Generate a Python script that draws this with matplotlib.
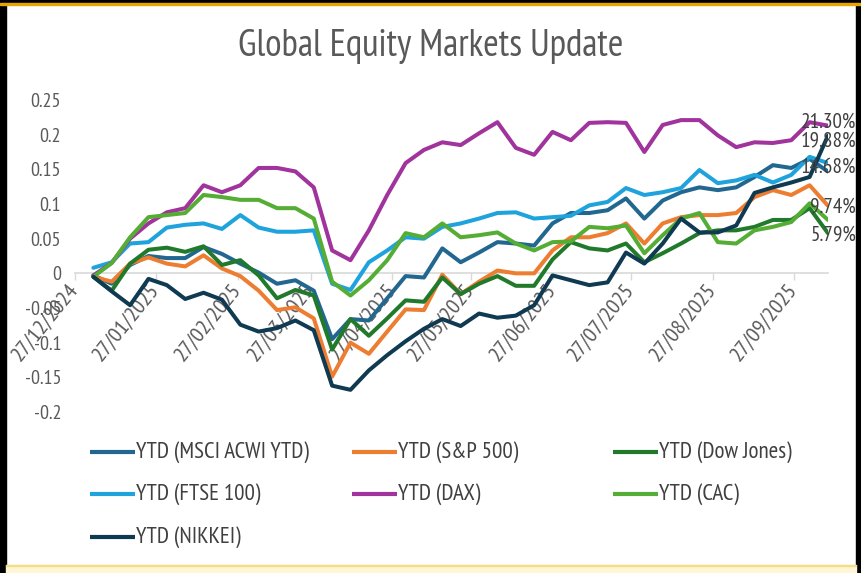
import numpy as np
import pandas as pd
import matplotlib
matplotlib.use("Agg")
import matplotlib.pyplot as plt
from matplotlib.lines import Line2D
from matplotlib.patches import Rectangle
from matplotlib import font_manager as fm
from matplotlib.textpath import TextPath
from matplotlib.font_manager import FontProperties

# ---------------- data ----------------
dates = pd.date_range("2025-01-03", periods=41, freq="7D")

series_names = ["YTD (MSCI ACWI YTD)", "YTD (S&P 500)", "YTD (Dow Jones)",
                "YTD (FTSE 100)", "YTD (DAX)", "YTD (CAC)", "YTD (NIKKEI)"]

msci = [-0.003, -0.015, 0.012, 0.025, 0.022, 0.022, 0.038, 0.028, 0.014, 0.001,
        -0.015, -0.010, -0.025, -0.095, -0.066, -0.068, -0.036, -0.004, -0.006, 0.036,
        0.016, 0.030, 0.045, 0.043, 0.040, 0.072, 0.087, 0.087, 0.091, 0.108,
        0.079, 0.105, 0.117, 0.124, 0.120, 0.124, 0.139, 0.156, 0.152, 0.165, 0.1468]
sp500 = [-0.005, -0.012, 0.014, 0.023, 0.014, 0.010, 0.026, 0.007, -0.004, -0.025,
         -0.053, -0.049, -0.065, -0.149, -0.100, -0.116, -0.084, -0.052, -0.053, -0.002,
         -0.030, -0.012, 0.004, 0.000, 0.000, 0.033, 0.052, 0.052, 0.058, 0.072,
         0.043, 0.072, 0.081, 0.084, 0.084, 0.087, 0.110, 0.120, 0.113, 0.127, 0.0974]
dow = [-0.005, -0.025, 0.014, 0.034, 0.037, 0.031, 0.039, 0.012, 0.019, -0.003,
       -0.036, -0.024, -0.032, -0.110, -0.066, -0.090, -0.065, -0.039, -0.041, -0.006,
       -0.030, -0.015, -0.004, -0.018, -0.018, 0.020, 0.045, 0.036, 0.033, 0.043,
       0.016, 0.029, 0.043, 0.058, 0.062, 0.062, 0.067, 0.077, 0.077, 0.094, 0.0579]
ftse = [0.008, 0.016, 0.043, 0.045, 0.066, 0.070, 0.072, 0.064, 0.084, 0.066,
        0.060, 0.060, 0.062, -0.015, -0.024, 0.016, 0.033, 0.052, 0.050, 0.067,
        0.072, 0.079, 0.087, 0.088, 0.079, 0.081, 0.083, 0.098, 0.103, 0.123,
        0.113, 0.117, 0.123, 0.149, 0.130, 0.134, 0.142, 0.131, 0.142, 0.168, 0.159]
dax = [-0.003, 0.015, 0.050, 0.072, 0.088, 0.094, 0.127, 0.117, 0.127, 0.152,
       0.152, 0.147, 0.124, 0.033, 0.019, 0.062, 0.113, 0.159, 0.178, 0.189,
       0.185, 0.202, 0.218, 0.181, 0.171, 0.204, 0.192, 0.217, 0.218, 0.217,
       0.175, 0.214, 0.221, 0.221, 0.199, 0.182, 0.189, 0.188, 0.192, 0.218, 0.2130]
cac = [-0.005, 0.015, 0.052, 0.081, 0.084, 0.087, 0.113, 0.110, 0.106, 0.106,
       0.094, 0.094, 0.079, -0.012, -0.032, -0.010, 0.019, 0.058, 0.052, 0.072,
       0.052, 0.055, 0.059, 0.043, 0.033, 0.045, 0.046, 0.067, 0.065, 0.069,
       0.029, 0.055, 0.079, 0.087, 0.045, 0.043, 0.062, 0.067, 0.074, 0.101, 0.077]
nikkei = [-0.005, -0.026, -0.046, -0.008, -0.017, -0.037, -0.028, -0.038, -0.074, -0.084,
          -0.079, -0.068, -0.082, -0.162, -0.168, -0.140, -0.118, -0.098, -0.080, -0.066,
          -0.076, -0.058, -0.064, -0.061, -0.046, -0.003, -0.010, -0.017, -0.013, 0.030,
          0.014, 0.043, 0.079, 0.059, 0.059, 0.069, 0.116, 0.124, 0.131, 0.139, 0.1988]

series_values = [msci, sp500, dow, ftse, dax, cac, nikkei]
series_colors = ["#22678f", "#ed7d31", "#217a2b", "#1fa3dc", "#a0339c", "#55ad35", "#0f3a52"]

tick_dates = pd.date_range("2024-12-27", "2025-09-27", freq=pd.DateOffset(months=1))
y_ticks = [0.25, 0.2, 0.15, 0.1, 0.05, 0, -0.05, -0.1, -0.15, -0.2]
y_tick_labels = ["0.25", "0.2", "0.15", "0.1", "0.05", "0", "-0.05", "-0.1", "-0.15", "-0.2"]
title_text = "Global Equity Markets Update"

# series with end-of-line data labels: index -> (dx px, dy px)
label_series = {4: (28, 3), 6: (28, -5), 0: (28, 4), 1: (28, -1), 2: (28, -2)}

# ---------------- fonts ----------------
installed = {f.name for f in fm.fontManager.ttflist}
prefs = ["PT Sans Narrow", "Fira Sans Condensed", "Roboto Condensed", "Archivo Narrow",
         "Asap Condensed", "Barlow Semi Condensed", "Liberation Sans Narrow"]
chosen = [p for p in prefs if p in installed][:1]
FONT = chosen + ["DejaVu Sans"]
plt.rcParams["font.family"] = FONT

# scale text so the title has the reference width (382 px at 25 pt design size)
tp = TextPath((0, 0), title_text, size=25, prop=FontProperties(family=FONT))
title_px = tp.get_extents().width * 100 / 72
S = 382.0 / title_px
S = max(0.75, min(1.25, S))

GREY = "#595959"

# ---------------- figure ----------------
W, H = 861, 573
fig = plt.figure(figsize=(W / 100, H / 100), dpi=100, facecolor="white")

def fx(px):
    return px / W

def fy(py):
    return 1 - py / H

# frame decorations
fig.add_artist(Rectangle((0, 0), fx(6), 1, transform=fig.transFigure, color="black", zorder=0))
fig.add_artist(Rectangle((fx(856), 0), 1 - fx(856), 1, transform=fig.transFigure, color="black", zorder=0))
fig.add_artist(Rectangle((0, fy(3)), 1, 1 - fy(3), transform=fig.transFigure, color="black", zorder=0))
fig.add_artist(Rectangle((0, fy(5)), 1, fy(3) - fy(5), transform=fig.transFigure, color="#e8a400", zorder=0))
fig.add_artist(Rectangle((fx(6), 0), fx(856) - fx(6), fy(565), transform=fig.transFigure,
                         color="#fff6d6", zorder=0))
fig.add_artist(Rectangle((fx(6), fy(566)), fx(856) - fx(6), fy(565) - fy(566),
                         transform=fig.transFigure, color="#f3dc8a", zorder=0))

ax = fig.add_axes([fx(75), fy(412), fx(828) - fx(75), fy(100) - fy(412)])
ax.set_facecolor("none")

# spines first (set_position resets the ticks)
for s in ["left", "right", "top"]:
    ax.spines[s].set_visible(False)
ax.spines["bottom"].set_position(("data", 0))
ax.spines["bottom"].set_color("#d9d9d9")
ax.spines["bottom"].set_linewidth(1.2)
ax.spines["bottom"].set_zorder(1)

for name, vals, col in zip(series_names, series_values, series_colors):
    ax.plot(dates, vals, color=col, lw=2.9, solid_joinstyle="round",
            solid_capstyle="round", zorder=3, label=name)

for idx, (dx, dy) in label_series.items():
    v = series_values[idx][-1]
    ax.annotate(f"{v * 100:.2f}%", xy=(dates[-1], v), xytext=(dx, dy),
                textcoords="offset pixels", ha="right", va="center",
                fontsize=14 * S, color="#404040", zorder=5, annotation_clip=False)

ax.set_xlim(pd.Timestamp("2024-12-27"), pd.Timestamp("2025-10-10"))
ax.set_ylim(-0.2, 0.25)
ax.set_yticks(y_ticks)
ax.set_yticklabels(y_tick_labels)
ax.set_xticks(tick_dates)
ax.set_xticklabels([d.strftime("%d/%m/%Y") for d in tick_dates])
ax.tick_params(axis="y", length=0, pad=10, labelsize=13.3 * S, labelcolor=GREY)
ax.tick_params(axis="x", length=5, width=1, color="#d9d9d9", direction="out", pad=4,
               labelsize=14.8 * S, labelcolor=GREY)
for lab in ax.get_xticklabels():
    lab.set_rotation(51)
    lab.set_rotation_mode("anchor")
    lab.set_ha("right")
    lab.set_va("center")

fig.text(fx(431), fy(47), title_text, ha="center", va="center",
         fontsize=25 * S, color=GREY)

# legend (3 equal columns like Excel)
col_x = [90, 352, 613]
row_y = [452, 494, 537]
for i, (name, col) in enumerate(zip(series_names, series_colors)):
    r, c = divmod(i, 3)
    x0 = col_x[c]
    y0 = row_y[r]
    fig.add_artist(Line2D([fx(x0), fx(x0 + 45)], [fy(y0), fy(y0)], transform=fig.transFigure,
                          color=col, lw=3.0, solid_capstyle="butt"))
    fig.text(fx(x0 + 46), fy(y0), name, ha="left", va="center",
             fontsize=15.3 * S, color="#404040")

fig.savefig("out.png", dpi=100, facecolor=fig.get_facecolor())
